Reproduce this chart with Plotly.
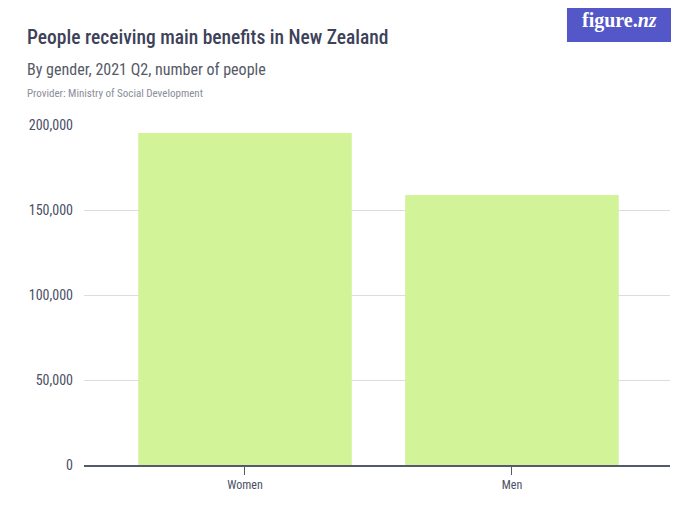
import plotly.graph_objects as go

# Data
categories = ["Women", "Men"]
people = [195300, 158800]

y_ticks = [0, 50000, 100000, 150000, 200000]
y_tick_labels = ["0", "50,000", "100,000", "150,000", "200,000"]

FONT = "Roboto Condensed, Liberation Sans Narrow, Roboto, sans-serif"
TEXT = "#3d4259"

fig = go.Figure(go.Bar(
    x=categories,
    y=people,
    marker=dict(color="#d3f398", line=dict(width=0)),
    hoverinfo="x+y",
))

# the page adds an 8px body margin, so plot box is shifted back by 8px
fig.update_layout(
    width=700,
    height=525,
    paper_bgcolor="white",
    plot_bgcolor="white",
    margin=dict(l=76, r=38, t=117, b=68),
    bargap=0.2,
    showlegend=False,
    font=dict(family=FONT, color=TEXT),
)

fig.update_xaxes(
    range=[-0.603, 1.592],
    showline=True,
    linecolor="#555a6b",
    linewidth=1.5,
    ticks="outside",
    ticklen=8,
    tickcolor="#555a6b",
    tickfont=dict(size=12, color="#4a4f66"),
    showgrid=False,
)

fig.update_yaxes(
    range=[0, 200000],
    tickvals=y_ticks,
    ticktext=y_tick_labels,
    tickfont=dict(size=14, color="#4a4f66"),
    showgrid=True,
    gridcolor="#dddddd",
    gridwidth=1,
    zeroline=False,
    ticks="",
    ticklabelstandoff=10,
)

# Titles
fig.add_annotation(text="People receiving main benefits in New Zealand",
                   xref="paper", yref="paper", x=-0.1, y=1.0, yshift=88,
                   xanchor="left", yanchor="middle", showarrow=False,
                   font=dict(size=19.5, color=TEXT, family=FONT, weight=500))
fig.add_annotation(text="By gender, 2021 Q2, number of people",
                   xref="paper", yref="paper", x=-0.1, y=1.0, yshift=56,
                   xanchor="left", yanchor="middle", showarrow=False,
                   font=dict(size=16, color="#555a66", family=FONT))
fig.add_annotation(text="Provider: Ministry of Social Development",
                   xref="paper", yref="paper", x=-0.1, y=1.0, yshift=32,
                   xanchor="left", yanchor="middle", showarrow=False,
                   font=dict(size=11, color="#8a8d99", family=FONT))

# figure.nz logo
fig.add_shape(type="rect", xref="paper", yref="paper",
              x0=0.8242, x1=1.0017, y0=1.244, y1=1.344,
              fillcolor="#5457c7", line=dict(width=0), layer="above")
fig.add_annotation(text="<b>figure.<i>nz</i></b>",
                   xref="paper", yref="paper", x=0.913, y=1.306,
                   xanchor="center", yanchor="middle", showarrow=False,
                   font=dict(size=20, color="white", family="Liberation Serif, DejaVu Serif, serif"))

fig.write_html("out.html")
